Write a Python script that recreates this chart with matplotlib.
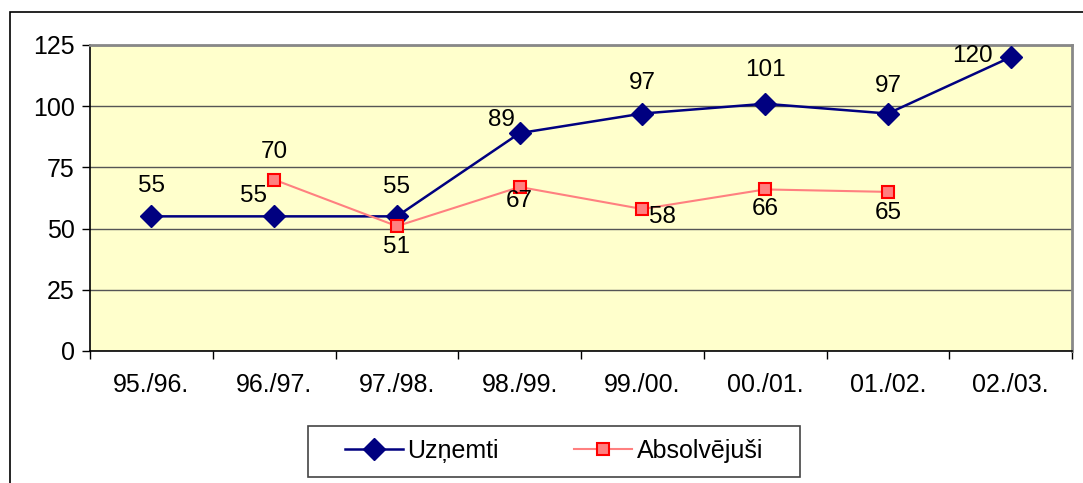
import matplotlib.pyplot as plt
from matplotlib.lines import Line2D
from matplotlib.patches import Rectangle

plt.rcParams['font.family'] = ['Liberation Sans', 'DejaVu Sans']

# Chart data
years = ['95./96.', '96./97.', '97./98.', '98./99.', '99./00.', '00./01.', '01./02.', '02./03.']
uznemti = [55, 55, 55, 89, 97, 101, 97, 120]
absolvejusi = [None, 70, 51, 67, 58, 66, 65, None]

# label offsets (pixels) for each data label
uzn_offsets = [(0, 30), (-21, 20), (0, 29), (-18, 13), (0, 31), (0, 34), (0, 28), (-38, 1)]
abs_offsets = [None, (0, 28), (0, -21), (0, -14), (20, -8), (0, -20), (0, -21)]

W, H = 1083, 483
fig = plt.figure(figsize=(W / 100, H / 100), dpi=100)
ax = fig.add_axes([90 / W, 1 - 351 / H, (1072 - 90) / W, (351 - 45) / H])
ax.set_facecolor('#FFFFCC')

x = list(range(len(years)))
ax.plot(x, uznemti, color='#000080', lw=1.8, marker='D', ms=11,
        mfc='#000080', mec='#000080', zorder=3)
xa = [i for i, v in enumerate(absolvejusi) if v is not None]
ya = [v for v in absolvejusi if v is not None]
ax.plot(xa, ya, color='#FF8080', lw=1.5, marker='s', ms=9,
        mfc='#FF8080', mec='#FF0000', mew=1.5, zorder=3)

for i, v in enumerate(uznemti):
    ax.annotate(str(v), (i, v), xytext=uzn_offsets[i], textcoords='offset pixels',
                ha='center', va='center', fontsize=17.5)
for i, v in enumerate(absolvejusi):
    if v is None:
        continue
    ax.annotate(str(v), (i, v), xytext=abs_offsets[i], textcoords='offset pixels',
                ha='center', va='center', fontsize=17.5)

ax.set_xlim(-0.5, len(years) - 0.5)
ax.set_ylim(0, 125)
ax.set_yticks([0, 25, 50, 75, 100, 125])
ax.set_xticks([i - 0.5 for i in range(len(years) + 1)])
ax.set_xticklabels([])
ax.set_xticks(x, minor=True)
ax.set_xticklabels(years, minor=True, fontsize=18)
ax.tick_params(axis='x', which='minor', length=0, pad=16)
ax.tick_params(axis='x', which='major', direction='out', length=6, width=1)
ax.tick_params(axis='y', direction='out', length=6, width=1, labelsize=18, pad=5)
ax.grid(axis='y', color='#555555', lw=1)
ax.set_axisbelow(True)
for s in ['top', 'right']:
    ax.spines[s].set_color('#888888')
    ax.spines[s].set_linewidth(2)
for s in ['left', 'bottom']:
    ax.spines[s].set_color('black')
    ax.spines[s].set_linewidth(1.2)

# outer chart border (right and bottom edges fall outside the image)
fig.patches.append(Rectangle((10 / W, -0.1), 1.0, 1.1 - 12 / H,
                             transform=fig.transFigure, fill=False,
                             edgecolor='black', lw=1.2))

# legend frame drawn separately
fig.patches.append(Rectangle((308 / W, 1 - 477 / H), (800 - 308) / W, 51 / H,
                             transform=fig.transFigure, fill=False,
                             edgecolor='#444444', lw=1.2))

handles = [
    Line2D([], [], color='#000080', lw=1.8, marker='D', ms=11, mfc='#000080', mec='#000080'),
    Line2D([], [], color='#FF8080', lw=1.5, marker='s', ms=9, mfc='#FF8080', mec='#FF0000', mew=1.5),
]
leg = fig.legend(handles, ['Uzņemti', 'Absolvējuši'], loc='center',
                 bbox_to_anchor=((308 + 800) / 2 / W, 1 - 451 / H), ncol=2,
                 fontsize=18, frameon=False, handlelength=2.3, columnspacing=3.0,
                 handletextpad=0.2, borderpad=0, borderaxespad=0)

fig.savefig('out.png', dpi=100)
